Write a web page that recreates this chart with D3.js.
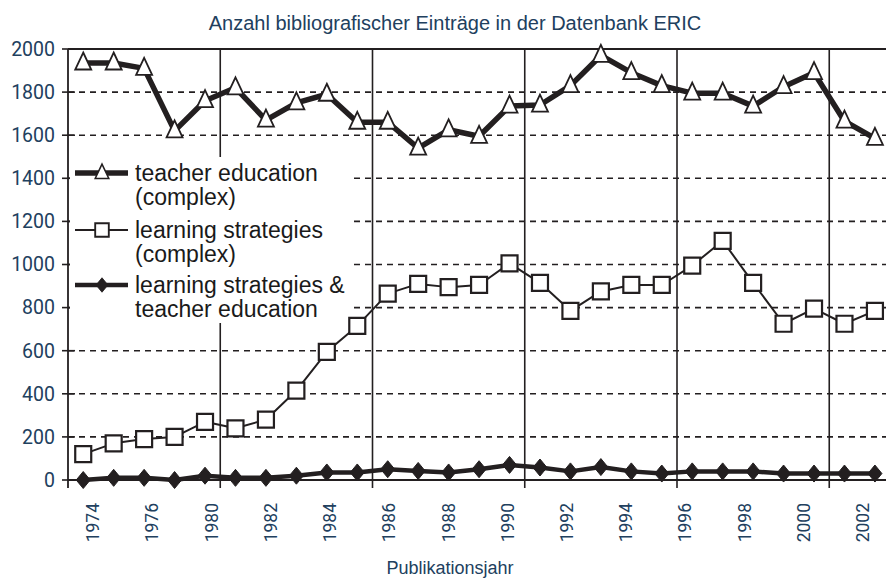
<!DOCTYPE html>
<html>
<head>
<meta charset="utf-8">
<script src="https://cdn.jsdelivr.net/npm/d3@7"></script>
<style>
  body { margin: 0; background: #fff; }
  svg { display: block; }
</style>
</head>
<body>
<svg id="chart" width="886" height="579"></svg>
<script>
// data
var years = ["1974","1975","1976","1977","1980","1981","1982","1983","1984","1985","1986","1987","1988","1989",
             "1990","1991","1992","1993","1994","1995","1996","1997","1998","1999","2000","2001","2002"];
var tickLabels = ["1974","1976","1980","1982","1984","1986","1988","1990","1992","1994","1996","1998","2000","2002"];
var teacherEdu = [1935,1935,1910,1620,1760,1820,1670,1750,1790,1660,1660,1540,1625,1595,
                  1735,1740,1830,1970,1890,1830,1795,1795,1735,1825,1890,1665,1585];
var learnStrat = [120,170,190,200,270,240,280,415,595,715,865,910,895,905,
                  1005,915,785,875,905,905,995,1110,915,725,795,725,785];
var both = [0,10,10,0,20,10,10,20,35,35,50,42,35,50,
            70,58,40,60,40,30,40,40,40,30,30,30,30];
var yTicks = [0,200,400,600,800,1000,1200,1400,1600,1800,2000];

var ink = "#231f20";
var blue = "#21405e";

var svg = d3.select("#chart");
var plotLeft = 68, plotTop = 49, plotBottom = 480, bandW = 30.45;

var x = d3.scaleBand().domain(years).range([plotLeft, plotLeft + years.length * bandW]);
var cx = function(d, i) { return x(years[i]) + x.bandwidth() / 2; };
var y = d3.scaleLinear().domain([0, 2000]).range([plotBottom, plotTop]);
var xl = d3.scalePoint().domain(tickLabels).range([93, 863]);

// title
svg.append("text")
   .attr("x", 455).attr("y", 30)
   .attr("text-anchor", "middle")
   .style("font-family", "'Liberation Sans', Arial, sans-serif")
   .style("font-size", "20px")
   .attr("fill", blue)
   .text("Anzahl bibliografischer Einträge in der Datenbank ERIC");

// horizontal grid (dashed), top one solid
svg.append("g").selectAll("line")
   .data(yTicks.filter(function(d){ return d > 0 && d < 2000; }))
   .enter().append("line")
   .attr("x1", plotLeft).attr("x2", 886)
   .attr("y1", function(d){ return y(d); }).attr("y2", function(d){ return y(d); })
   .attr("stroke", ink).attr("stroke-width", 1.6)
   .attr("stroke-dasharray", "6,5");

svg.append("line")
   .attr("x1", plotLeft).attr("x2", 886)
   .attr("y1", y(2000)).attr("y2", y(2000))
   .attr("stroke", ink).attr("stroke-width", 2);

// vertical separators every 5 categories
var sepYears = years.filter(function(d, i){ return i % 5 === 0 && i > 0; });
svg.append("g").selectAll("line")
   .data(sepYears).enter().append("line")
   .attr("x1", function(d){ return x(d); }).attr("x2", function(d){ return x(d); })
   .attr("y1", y(2000)).attr("y2", plotBottom + 8)
   .attr("stroke", ink).attr("stroke-width", 1.6);

// axes
svg.append("line")
   .attr("x1", plotLeft).attr("x2", plotLeft).attr("y1", y(2000)).attr("y2", plotBottom + 8)
   .attr("stroke", ink).attr("stroke-width", 1.8);
svg.append("line")
   .attr("x1", plotLeft).attr("x2", 886).attr("y1", plotBottom).attr("y2", plotBottom)
   .attr("stroke", ink).attr("stroke-width", 1.8);

var yAxis = svg.append("g");
yAxis.selectAll("line").data(yTicks).enter().append("line")
   .attr("x1", plotLeft - 6).attr("x2", plotLeft + 7)
   .attr("y1", function(d){ return y(d); }).attr("y2", function(d){ return y(d); })
   .attr("stroke", ink).attr("stroke-width", 1.6);
yAxis.selectAll("text").data(yTicks).enter().append("text")
   .attr("x", 55).attr("y", function(d){ return y(d); })
   .attr("dy", "0.35em")
   .attr("text-anchor", "end")
   .style("font-family", "Roboto, 'Liberation Sans', sans-serif")
   .style("font-size", "19.5px")
   .attr("fill", blue)
   .text(function(d){ return d; });

// x labels, rotated
svg.append("g").selectAll("text")
   .data(tickLabels).enter().append("text")
   .attr("transform", function(d){ return "translate(" + xl(d) + ",503) rotate(-90)"; })
   .attr("dy", "0.35em")
   .attr("text-anchor", "end")
   .style("font-family", "Roboto, 'Liberation Sans', sans-serif")
   .style("font-size", "17.5px")
   .attr("fill", blue)
   .text(function(d){ return d; });

svg.append("text")
   .attr("x", 450).attr("y", 574)
   .attr("text-anchor", "middle")
   .style("font-family", "'Liberation Sans', Arial, sans-serif")
   .style("font-size", "18px")
   .attr("fill", blue)
   .text("Publikationsjahr");

// marker shapes
var triangle = "M0,-10.5L8,6.5L-8,6.5Z";
var square = "M-8,-8H8V8H-8Z";
var diamond = "M0,-8.5L7,0L0,8.5L-7,0Z";

var series = [
  { name: ["teacher education", "(complex)"], values: teacherEdu, lw: 5.5, sym: triangle, fill: "#fff", sw: 1.8, ly: 173 },
  { name: ["learning strategies", "(complex)"], values: learnStrat, lw: 2, sym: square, fill: "#fff", sw: 2.2, ly: 230 },
  { name: ["learning strategies &", "teacher education"], values: both, lw: 4.5, sym: diamond, fill: ink, sw: 1, ly: 285 }
];

// legend
var legend = svg.append("g");
legend.append("rect")
   .attr("x", plotLeft + 2).attr("y", 157).attr("width", 284).attr("height", 166)
   .attr("fill", "#fff");

series.forEach(function(s) {
  legend.append("line")
     .attr("x1", 75).attr("x2", 128).attr("y1", s.ly).attr("y2", s.ly)
     .attr("stroke", ink).attr("stroke-width", s.lw);
  legend.append("path")
     .attr("d", s.sym)
     .attr("transform", "translate(102," + s.ly + ") scale(0.85)")
     .attr("fill", s.fill).attr("stroke", ink).attr("stroke-width", s.sw);
  legend.append("text")
     .attr("x", 135).attr("y", s.ly)
     .style("font-family", "'Liberation Sans', Arial, sans-serif")
     .style("font-size", "23px")
     .attr("fill", "#1a1a1a")
     .selectAll("tspan").data(s.name).enter().append("tspan")
     .attr("x", 135)
     .attr("dy", function(d, i){ return i === 0 ? "0.35em" : "24px"; })
     .text(function(d){ return d; });
});

// series lines + markers
var line = d3.line()
   .x(function(d, i){ return cx(d, i); })
   .y(function(d){ return y(d); });

series.forEach(function(s) {
  svg.append("path")
     .datum(s.values)
     .attr("d", line)
     .attr("fill", "none")
     .attr("stroke", ink)
     .attr("stroke-width", s.lw)
     .attr("stroke-linejoin", "round");
  svg.append("g").selectAll("path")
     .data(s.values).enter().append("path")
     .attr("d", s.sym)
     .attr("transform", function(d, i){ return "translate(" + cx(d, i) + "," + y(d) + ")"; })
     .attr("fill", s.fill).attr("stroke", ink).attr("stroke-width", s.sw);
});
</script>
</body>
</html>
